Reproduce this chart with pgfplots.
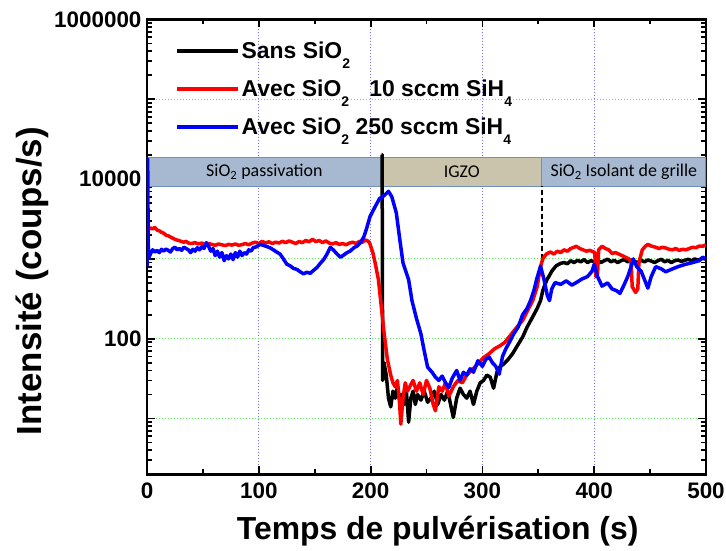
\documentclass[border=0pt]{standalone}
\usepackage{pgfplots}
\pgfplotsset{compat=1.18}
\usepackage{fontspec}
\setmainfont{Liberation Sans}
\newfontfamily\calibri{Carlito}
\newcommand{\lsub}[1]{\raisebox{-10bp}{\fontsize{14}{14}\selectfont #1}}
\definecolor{gridblue}{HTML}{7070FF}
\definecolor{gridgreen}{HTML}{55EE55}
\definecolor{bandblue}{HTML}{A7B9D1}
\definecolor{bandedge}{HTML}{6F8FC0}
\definecolor{bandigzo}{HTML}{CBC4AD}
\begin{document}
\begin{tikzpicture}
\begin{axis}[
  scale only axis,
  width=559bp, height=454.8bp,
  xmin=0, xmax=500, ymin=2, ymax=1000000,
  ymode=log,
  axis line style={line width=2.6bp},
  xtick={0,100,200,300,400,500},
  minor x tick num=1,
  ytick={10,100,1000,10000,100000,1000000},
  yticklabels={,100,,10000,,1000000},
  minor ytick={2,3,4,5,6,7,8,9,20,30,40,50,60,70,80,90,200,300,400,500,600,700,800,900,2000,3000,4000,5000,6000,7000,8000,9000,20000,30000,40000,50000,60000,70000,80000,90000,200000,300000,400000,500000,600000,700000,800000,900000},
  tick align=inside,
  xtick pos=both, ytick pos=both,
  major tick length=8bp, minor tick length=5bp,
  every tick/.style={black, line width=1.8bp},
  xmajorgrids, ymajorgrids,
  x grid style={gridblue, line width=1bp, dash pattern=on 1bp off 2bp},
  y grid style={gridgreen, line width=1bp, dash pattern=on 1bp off 2bp},
  /pgf/number format/assume math mode=true,
  tick label style={font=\fontsize{22.5}{24}\selectfont\bfseries},
  xticklabel style={yshift=-5bp},
  yticklabel style={xshift=-2bp},
  xlabel={Temps de pulvérisation (s)},
  ylabel={Intensité (coups/s)},
  xlabel style={font=\fontsize{32}{36}\selectfont\bfseries, at={(axis description cs:0.52,-0.125)}, anchor=center},
  ylabel style={font=\fontsize{35}{38}\selectfont\bfseries, at={(axis description cs:-0.206,0.425)}, anchor=center, rotate=0},
  legend cell align=left,
  legend style={draw=none, fill=none, at={(0.05,0.956)}, anchor=north west,
    font=\fontsize{23}{26}\selectfont\bfseries, row sep=16bp, inner sep=0bp,
    nodes={inner sep=2bp}},
  legend image code/.code={\path (0bp,0bp) -- (61bp,0bp); \draw[#1, line width=3.5bp] (0bp,0bp) -- (57bp,0bp);},
]
\coordinate (ll) at (rel axis cs:0,0);
% bands
\draw[bandedge, line width=1.2bp, fill=bandblue] (axis cs:0,8130) rectangle (axis cs:210,18450);
\draw[bandedge, line width=1.2bp, fill=bandigzo] (axis cs:210,8130) rectangle (axis cs:353,18450);
\draw[bandedge, line width=1.2bp, fill=bandblue] (axis cs:353,8130) rectangle (axis cs:500,18450);
\node[font=\calibri\fontsize{18}{20}\selectfont] at (axis cs:105,12250) {SiO\textsubscript{2} passivation};
\node[font=\calibri\fontsize{18}{20}\selectfont] at (axis cs:281.5,12250) {IGZO};
\node[font=\calibri\fontsize{18}{20}\selectfont] at (axis cs:426.5,12250) {SiO\textsubscript{2} Isolant de grille};
\addplot[black, line width=2bp, dash pattern=on 5bp off 3bp, forget plot] coordinates {(353,1000) (353,8130)};
% black: Sans SiO2
\addplot[black, line width=3.5bp, line join=round] coordinates {
(209.8,20300) (210.3,20300) (210.8,30) (212,50) (214,35) (216,18) (218,14) (220,22) (222,18) (224,25) (226,17) (228,20) (230,15) (232,22) (234,9) (236,18) (238,22) (240,15) (242,20) (245,17) (248,22) (251,16) (254,18) (257,22) (260,15) (263,20) (266,17) (269,22) (272,14) (274,10.3) (277,18) (280,24) (283,20) (286,18) (289,22) (292,15) (295,22) (298,28) (301,30) (304,35) (307,33) (310,24) (313,38) (316,45) (319,48) (323,55) (327,65) (332,85) (336,105) (340,140) (345,188) (349,240) (352,300) (354,400) (356,480) (358,560) (360,620) (362,700) (364,760) (366,820) (368,850) (370,880) (373,900) (376,870) (379,950) (382,900) (385,960) (388,920) (391,980) (394,900) (397,950) (400,920) (403,970) (406,900) (409,950) (412,990) (415,920) (418,960) (421,900) (424,950) (427,980) (430,920) (433,970) (436,930) (439,900) (442,960) (445,920) (448,970) (451,940) (454,900) (457,950) (460,990) (463,920) (466,960) (469,900) (472,950) (475,970) (478,930) (481,960) (484,990) (487,950) (490,1000) (493,960) (496,1010) (500,1000)
};
\addlegendentry{Sans SiO\lsub{2}}
% red: 10 sccm
\addplot[red, line width=3.5bp, line join=round] coordinates {
(0,2000) (1,2300) (3,2450) (5,2380) (7,2480) (9,2300) (11,2250) (13,2150) (15,2100) (17,1980) (19,1950) (21,1880) (23,1820) (25,1760) (27,1720) (29,1690) (31,1650) (33,1620) (35,1660) (37,1580) (40,1560) (43,1600) (46,1540) (49,1580) (52,1500) (55,1560) (58,1520) (61,1480) (64,1540) (67,1500) (70,1470) (73,1520) (76,1490) (79,1540) (82,1480) (85,1510) (88,1560) (91,1500) (94,1580) (97,1620) (100,1560) (103,1660) (106,1580) (109,1640) (112,1560) (115,1620) (118,1580) (121,1660) (124,1600) (127,1680) (130,1620) (133,1560) (136,1650) (139,1600) (142,1700) (145,1640) (148,1760) (151,1650) (154,1700) (157,1600) (160,1680) (163,1580) (166,1540) (169,1600) (172,1520) (175,1560) (178,1500) (181,1580) (184,1620) (187,1560) (190,1660) (193,1620) (195,1720) (197,1700) (199,1600) (202,1200) (204,900) (207,550) (209,300) (212,120) (215,55) (218,35) (220,28) (222,25) (224,30) (226,15) (227,8.5) (229,18) (231,28) (233,22) (235,25) (238,30) (241,22) (244,28) (247,20) (250,30) (253,24) (256,15) (258,12.5) (261,25) (264,22) (267,28) (270,19) (274,25) (278,30) (282,28) (286,35) (290,40) (293,44) (297,50) (301,58) (306,65) (311,75) (316,82) (320,90) (325,110) (330,135) (336,170) (340,220) (345,300) (349,450) (352,800) (354,1000) (356,1100) (358,1170) (361,1220) (364,1150) (367,1250) (370,1200) (373,1300) (376,1250) (379,1350) (382,1400) (384,1440) (387,1350) (390,1300) (393,1250) (396,1280) (399,1230) (400.5,1200) (401.5,600) (403,650) (404,1300) (407,1440) (410,1350) (413,1300) (416,1170) (419,1200) (422,1150) (425,1100) (428,1050) (431,1000) (433,900) (434,450) (437,380) (439,420) (440,900) (443,1300) (446,1450) (448,1520) (451,1450) (455,1400) (458,1350) (461,1400) (464,1370) (467,1320) (470,1300) (473,1350) (476,1280) (479,1320) (482,1300) (485,1350) (488,1400) (491,1380) (494,1450) (497,1440) (500,1500)
};
\addlegendentry{Avec SiO\lsub{2}\hspace{0.6em} 10 sccm SiH\lsub{4}}
% blue: 250 sccm
\addplot[blue, line width=3.5bp, line join=round] coordinates {
(0,800) (0.6,18000) (1.2,1000) (3,1150) (5,1300) (7,1220) (9,1280) (11,1200) (13,1320) (15,1250) (17,1330) (19,1280) (21,1220) (23,1350) (25,1400) (27,1300) (29,1350) (31,1280) (33,1400) (35,1350) (37,1300) (39,1200) (41,1320) (43,1250) (45,1380) (47,1300) (49,1420) (51,1350) (53,1600) (55,1450) (57,1250) (59,1350) (61,1100) (63,1250) (65,1050) (67,1200) (69,950) (71,1100) (73,1000) (75,1150) (77,980) (79,1200) (81,1050) (83,1250) (85,1100) (87,1200) (89,1150) (91,1300) (93,1250) (95,1380) (98,1420) (101,1520) (104,1480) (107,1430) (110,1380) (113,1300) (116,1220) (119,1150) (122,1000) (125,860) (128,820) (131,760) (134,740) (137,690) (140,650) (143,680) (146,660) (149,720) (152,780) (155,880) (158,980) (161,1150) (164,1400) (167,1280) (170,1150) (173,1050) (176,1120) (179,1200) (182,1260) (185,1380) (188,1450) (191,1600) (194,1900) (196,2300) (199.5,3400) (204,4500) (208,5700) (212,6200) (216,7030) (219,6000) (223,3770) (226,1800) (229,890) (234,550) (237,300) (241,180) (245,115) (248,70) (251,44) (255,38) (258,33) (261,30) (264,34) (267,28) (270,24.5) (273,32) (277,40) (280,30) (283,38) (286,35) (289,42) (292,38) (296,53) (300,45) (303,55) (306,59) (309,50) (312,45) (315,36) (318,60) (321,75) (325,95) (328,115) (332,140) (336,200) (340,240) (343,300) (346,400) (348.6,560) (352,810) (355,560) (358,350) (360,300) (362,420) (365,505) (370,480) (375,530) (380,470) (384,505) (389,560) (394,600) (398,700) (400,855) (403,600) (407,456) (412,500) (416,420) (420,400) (423,370) (426,450) (430,600) (433,800) (435,1000) (438,800) (442,700) (445,550) (448,430) (451,600) (455,800) (460,750) (464,690) (470,750) (475,800) (481,850) (488,900) (494,950) (497,1050) (500,1000)
};
\addlegendentry{Avec SiO\lsub{2} 250 sccm SiH\lsub{4}}
\end{axis}
\pgfresetboundingbox
\useasboundingbox (ll) ++(-147bp,-76.7bp) rectangle ++(726bp,551bp);
\end{tikzpicture}
\end{document}
